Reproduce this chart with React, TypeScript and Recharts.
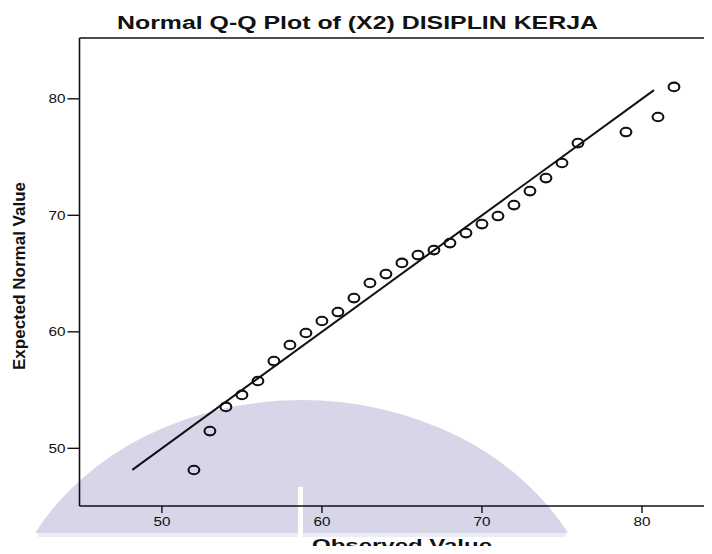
import React from 'react';
import { ScatterChart, Scatter, XAxis, YAxis, ReferenceLine } from 'recharts';

// Observed scores and their expected normal quantiles
const observed = [52, 53, 54, 55, 56, 57, 58, 59, 60, 61, 62, 63, 64, 65, 66, 67, 68, 69, 70, 71, 72, 73, 74, 75, 76, 79, 81, 82];
const expected = [48.14, 51.48, 53.55, 54.58, 55.78, 57.49, 58.87, 59.9, 60.93, 61.7, 62.9, 64.19, 64.96, 65.91, 66.59, 67.02, 67.62, 68.48, 69.25, 69.94, 70.88, 72.08, 73.2, 74.49, 76.2, 77.15, 78.44, 81.02];

// Reference line y = x over the fitted range
const lineStart = 48.15;
const lineEnd = 80.75;

const xTicks = [50, 60, 70, 80];
const yTicks = [50, 60, 70, 80];

const chartTitle = 'Normal Q-Q Plot of (X2) DISIPLIN KERJA';
const xTitle = 'Observed Value';
const yTitle = 'Expected Normal Value';

const points = observed.map((x, i) => ({ x, y: expected[i] }));

const FONT = 'Arial, "Liberation Sans", Helvetica, sans-serif';
const INK = '#111';

const XTick = (props: any) => {
  const { x, y, payload } = props;
  return (
    <text x={x} y={y} dy="0.71em" textAnchor="middle" fontFamily={FONT} fontSize={12.5} fill={INK}
      textLength={17} lengthAdjust="spacingAndGlyphs">
      {payload.value}
    </text>
  );
};

const YTick = (props: any) => {
  const { x, y, payload } = props;
  return (
    <text x={x} y={y} dy="0.355em" textAnchor="end" fontFamily={FONT} fontSize={12.5} fill={INK}
      textLength={17} lengthAdjust="spacingAndGlyphs">
      {payload.value}
    </text>
  );
};

const OpenDot = (props: any) => (
  <ellipse cx={props.cx} cy={props.cy} rx={5.4} ry={4.3} fill="none" stroke={INK} strokeWidth={2.1} />
);

export default function App() {
  return (
    <div style={{ position: 'relative', width: 712, height: 554, margin: -8, overflow: 'hidden', background: '#fff' }}>
      {/* faint dome-shaped backdrop behind the lower-left of the plot */}
      <svg style={{ position: 'absolute', left: 0, top: 0 }} width={712} height={554}>
        <rect x={38} y={533} width={528} height={4} fill="#ececf4" />
        <path d="M35 533 A301.6 250 0 0 1 568 533 Z" fill="#d6d6e8" />
        <rect x={298} y={487} width={5} height={50} fill="#fff" />
      </svg>
      <div style={{ position: 'absolute', left: 0, top: 0 }}>
        <ScatterChart width={730} height={554} margin={{ top: 38, right: 8, bottom: 18, left: 0 }}>
          <XAxis
            type="number"
            dataKey="x"
            domain={[44.85, 85]}
            ticks={xTicks}
            allowDataOverflow
            height={30}
            tickSize={7}
            tickMargin={4}
            tick={<XTick />}
            axisLine={{ stroke: INK, strokeWidth: 1.6 }}
            tickLine={{ stroke: INK, strokeWidth: 1.4 }}
          />
          <YAxis
            type="number"
            dataKey="y"
            domain={[45.05, 85.22]}
            ticks={yTicks}
            allowDataOverflow
            width={79.5}
            tickSize={12}
            tickMargin={2}
            tick={<YTick />}
            axisLine={{ stroke: INK, strokeWidth: 1.6 }}
            tickLine={{ stroke: INK, strokeWidth: 1.4 }}
          />
          <ReferenceLine y={85.22} stroke={INK} strokeWidth={1.6} ifOverflow="visible" />
          <ReferenceLine
            segment={[{ x: lineStart, y: lineStart }, { x: lineEnd, y: lineEnd }]}
            stroke={INK}
            strokeWidth={2}
            ifOverflow="visible"
          />
          <Scatter data={points} shape={<OpenDot />} isAnimationActive={false} />
          <text x={357.5} y={29} textAnchor="middle" fontFamily={FONT} fontWeight="bold" fontSize={17.5} fill={INK}
            textLength={481} lengthAdjust="spacingAndGlyphs">
            {chartTitle}
          </text>
          <text x={402} y={550.5} textAnchor="middle" fontFamily={FONT} fontWeight="bold" fontSize={16.5} fill={INK}
            textLength={180} lengthAdjust="spacingAndGlyphs">
            {xTitle}
          </text>
          <text transform="translate(25,276) rotate(-90)" x={0} y={0} textAnchor="middle" fontFamily={FONT}
            fontWeight="bold" fontSize={16.5} fill={INK} textLength={188} lengthAdjust="spacingAndGlyphs">
            {yTitle}
          </text>
        </ScatterChart>
      </div>
    </div>
  );
}
